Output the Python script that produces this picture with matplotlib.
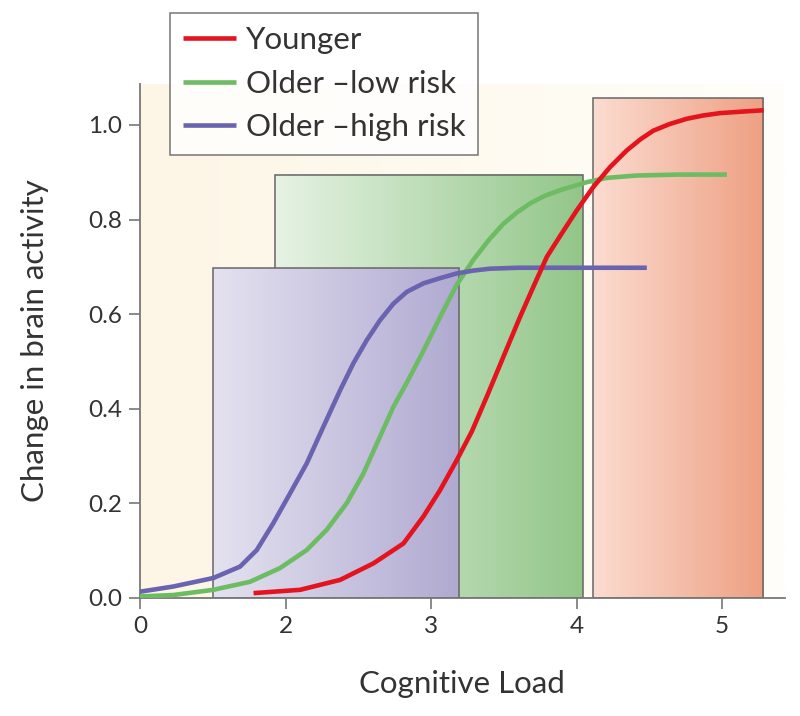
import matplotlib.pyplot as plt
import numpy as np
from matplotlib.colors import LinearSegmentedColormap
from matplotlib.patches import Rectangle

plt.rcParams['font.family'] = ['Lato', 'DejaVu Sans']

# x positions on the axis (tick "0" sits where 1 would be)
xtick_pos = [1, 2, 3, 4, 5]
xtick_labels = ['0', '2', '3', '4', '5']
ytick_vals = [0.0, 0.2, 0.4, 0.6, 0.8, 1.0]

series_names = ['Younger', 'Older \u2013low risk', 'Older \u2013high risk']

young_x = [1.78, 2.10, 2.375, 2.604, 2.81, 2.947, 3.062, 3.176, 3.28, 3.382, 3.497, 3.611,
           3.703, 3.795, 3.886, 4.0, 4.115, 4.23, 4.344, 4.44, 4.528, 4.64, 4.757, 4.87,
           4.986, 5.13, 5.284]
young_y = [0.010, 0.017, 0.038, 0.073, 0.115, 0.172, 0.228, 0.291, 0.352, 0.425, 0.51, 0.594,
           0.658, 0.721, 0.765, 0.819, 0.869, 0.911, 0.946, 0.970, 0.988, 1.002, 1.013, 1.020,
           1.025, 1.028, 1.031]

low_x = [1.0, 1.229, 1.504, 1.756, 1.962, 2.145, 2.283, 2.42, 2.535, 2.649, 2.741, 2.833,
         2.94, 3.062, 3.176, 3.291, 3.40, 3.497, 3.59, 3.68, 3.78, 3.886, 4.07, 4.207,
         4.413, 4.70, 5.032]
low_y = [0.003, 0.006, 0.017, 0.034, 0.063, 0.101, 0.144, 0.20, 0.263, 0.341, 0.404, 0.455,
         0.518, 0.594, 0.662, 0.715, 0.758, 0.791, 0.815, 0.834, 0.850, 0.862, 0.879, 0.888,
         0.893, 0.895, 0.895]

high_x = [1.0, 1.229, 1.504, 1.687, 1.802, 1.916, 2.031, 2.145, 2.26, 2.375, 2.466, 2.558,
          2.649, 2.741, 2.833, 2.947, 3.062, 3.176, 3.29, 3.405, 3.60, 4.00, 4.482]
high_y = [0.013, 0.024, 0.042, 0.066, 0.101, 0.158, 0.221, 0.284, 0.362, 0.439, 0.496, 0.545,
          0.587, 0.622, 0.647, 0.665, 0.676, 0.686, 0.692, 0.696, 0.698, 0.698, 0.698]

# shaded boxes: (left, right, top)
young_box = (4.11, 5.28, 1.056)
low_box = (1.93, 4.045, 0.895)
high_box = (1.50, 3.19, 0.697)

red = '#e3141e'
green = '#6dbb63'
purple = '#6a63b0'

fig = plt.figure(figsize=(8, 7.16), dpi=100)
ax = fig.add_axes([0.175, 0.165, 0.806, 0.718])

xmax = 5.43
ymax = 1.087
ax.set_xlim(1, xmax)
ax.set_ylim(0, ymax)

# cream background gradient
grad = np.linspace(0, 1, 256).reshape(1, -1)
bg_cmap = LinearSegmentedColormap.from_list('bg', ['#fdf6e6', '#fffefa'])
ax.imshow(grad, cmap=bg_cmap, extent=[1, xmax, 0, ymax], aspect='auto', zorder=0)


def gradient_box(box, c0, c1, z):
    x0, x1, top = box
    cmap = LinearSegmentedColormap.from_list('g', [c0, c1])
    ax.imshow(grad, cmap=cmap, extent=[x0, x1, 0, top], aspect='auto', zorder=z)
    ax.add_patch(Rectangle((x0, 0), x1 - x0, top, fill=False, edgecolor='#666666',
                           linewidth=1.1, zorder=z + 0.1))


gradient_box(low_box, '#e6f3e4', '#93c689', 1)
gradient_box(high_box, '#e4e2f0', '#b0aad1', 2)
gradient_box(young_box, '#fbdcd0', '#eea083', 1)

ax.plot(low_x, low_y, color=green, lw=3.3, zorder=5, solid_capstyle='butt',
        solid_joinstyle='round', label=series_names[1])
ax.plot(high_x, high_y, color=purple, lw=3.3, zorder=5, solid_capstyle='butt',
        solid_joinstyle='round', label=series_names[2])
ax.plot(young_x, young_y, color=red, lw=3.3, zorder=6, solid_capstyle='butt',
        solid_joinstyle='round', label=series_names[0])

ax.set_xticks(xtick_pos)
ax.set_xticklabels(xtick_labels)
ax.set_yticks(ytick_vals)
ax.set_yticklabels([f'{v:.1f}' for v in ytick_vals])
ax.tick_params(direction='out', length=8, width=1.2, color='#777777', labelsize=17.5,
               labelcolor='#333333', pad=5)

for s in ['top', 'right']:
    ax.spines[s].set_visible(False)
for s in ['left', 'bottom']:
    ax.spines[s].set_color('#777777')
    ax.spines[s].set_linewidth(1.3)

ax.set_xlabel('Cognitive Load', fontsize=22.5, color='#333333', labelpad=24)
ax.set_ylabel('Change in brain activity', fontsize=22.5, color='#333333', labelpad=28)

handles, labels = ax.get_legend_handles_labels()
order = [2, 0, 1]
leg = fig.legend([handles[i] for i in order], [labels[i] for i in order],
                 loc='upper left', bbox_to_anchor=(170 / 800, 1 - 13 / 716),
                 fontsize=22.5, frameon=True, fancybox=False, edgecolor='#555555',
                 handlelength=1.7, handletextpad=0.3, labelspacing=0.5,
                 borderpad=0.42, borderaxespad=0)
leg.get_frame().set_linewidth(1.1)
for t in leg.get_texts():
    t.set_color('#333333')

fig.savefig('out.png', dpi=100, facecolor='white')
